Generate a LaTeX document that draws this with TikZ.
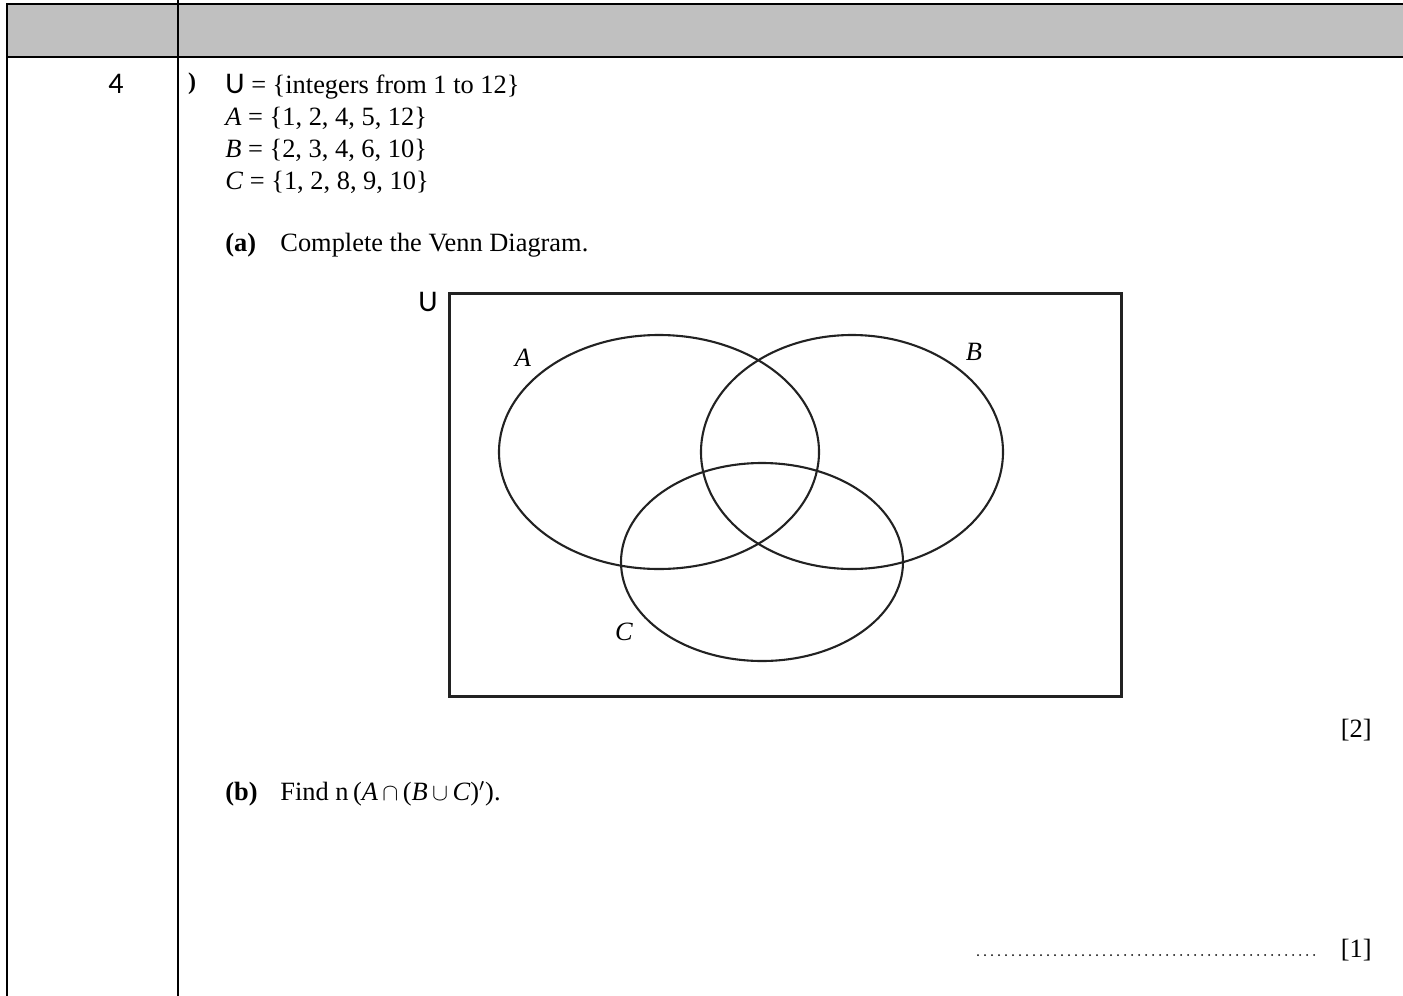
\documentclass[tikz,border=0pt]{standalone}
\usepackage{fontspec}
\setmainfont{Liberation Serif}
\newfontfamily\sansU{Carlito}
\definecolor{bandgray}{HTML}{C0C0C0}
\definecolor{inkgray}{HTML}{222222}

\begin{document}
\begin{tikzpicture}[x=0.5pt, y=-0.5pt,
  rule/.style={line width=1.1pt},
  setbox/.style={draw=inkgray, line width=1.5pt},
  ring/.style={draw=inkgray, line width=1.05pt},
  txt/.style={anchor=base west, inner sep=0pt, font=\fontsize{13.2}{16}\selectfont},
  lbl/.style={inner sep=0pt, font=\fontsize{13.2}{16}\selectfont\itshape},
  sanslbl/.style={inner sep=0pt, font=\sansU\fontsize{15}{17}\selectfont},
  answer/.style={line width=1pt, line cap=round, dash pattern=on 0pt off 3.5pt}
]
\useasboundingbox (0,0) rectangle (1403,996);

% table frame
\fill[bandgray] (7,4) rectangle (1403,57);
\draw[rule] (7,4) -- (1403,4);
\draw[rule] (7,57) -- (1403,57);
\draw[rule] (7,3) -- (7,996);
\draw[rule] (178,0) -- (178,996);

\node[sanslbl] (qnum) at (116,84) {4};
\node[inner sep=0pt, font=\fontsize{12}{12}\selectfont\bfseries] (cut) at (192,84) {)};

% the sets
\node[txt] (uset) at (225,93) {{\sansU\fontsize{15}{17}\selectfont U} = \{integers from 1 to 12\}};
\node[txt] (aset) at (225,125) {\textit{A} = \{1, 2, 4, 5, 12\}};
\node[txt] (bset) at (225,157) {\textit{B} = \{2, 3, 4, 6, 10\}};
\node[txt] (cset) at (225,189) {\textit{C} = \{1, 2, 8, 9, 10\}};

\node[txt] (parta) at (225,251) {\textbf{(a)}};
\node[txt] (parta text) at (280,251) {Complete the Venn Diagram.};

% venn diagram
\draw[setbox] (449,293) rectangle (1121,696);
\draw[ring] (659,452) ellipse [x radius=160, y radius=117];
\draw[ring] (852,452) ellipse [x radius=151, y radius=117];
\draw[ring] (762,562) ellipse [x radius=141, y radius=99];
\node[sanslbl] (lblU) at (428,302) {U};
\node[lbl] (lblA) at (523,358) {A};
\node[lbl] (lblB) at (974,352) {B};
\node[lbl] (lblC) at (624,632) {C};

\node[txt, anchor=base east] (mark2) at (1372,737) {[2]};

\node[txt] (partb) at (225,800) {\textbf{(b)}};
\node[txt] (partb text) at (280,800) {Find n\,(\textit{A}\,$\cap$\,(\textit{B}\,$\cup$\,\textit{C})$'$).};

\coordinate (ans start) at (978,955);
\coordinate (ans end) at (1321,955);
\draw[answer] (ans start) -- (ans end);
\node[txt, anchor=base east] (mark1) at (1372,957) {[1]};
\end{tikzpicture}
\end{document}
